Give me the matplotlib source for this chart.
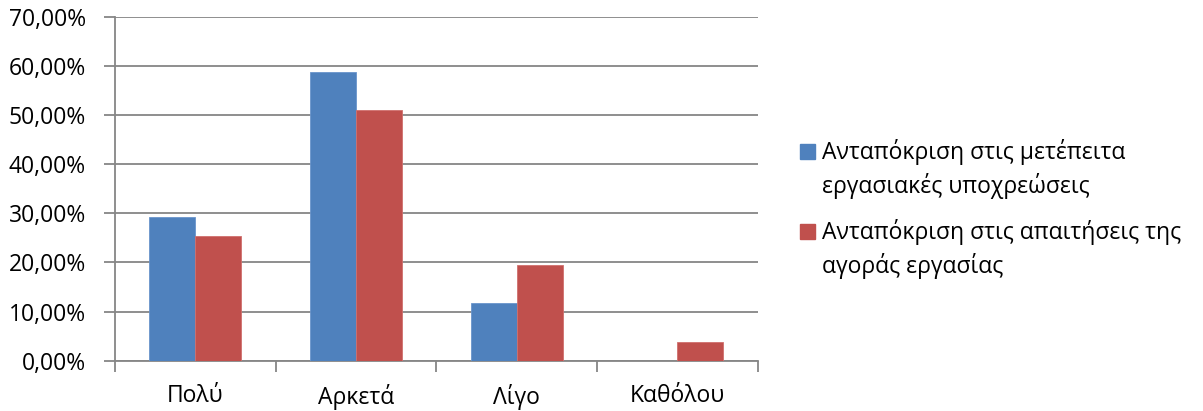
import matplotlib
matplotlib.use('Agg')
import matplotlib.pyplot as plt
import numpy as np
from matplotlib.patches import Rectangle
from matplotlib.ticker import FuncFormatter

# Δεδομένα
categories = ['Πολύ', 'Αρκετά', 'Λίγο', 'Καθόλου']
series_names = [['Ανταπόκριση στις μετέπειτα', 'εργασιακές υποχρεώσεις'],
                ['Ανταπόκριση στις απαιτήσεις της', 'αγοράς εργασίας']]
obligations = [29.3, 58.8, 11.7, 0.0]
market = [25.4, 51.0, 19.5, 3.8]
y_ticks = [0, 10, 20, 30, 40, 50, 60, 70]
colors = ['#4F81BD', '#C0504D']

plt.rcParams['font.family'] = ['Open Sans', 'DejaVu Sans']
fs = 16.5

W, H = 1203, 411
fig = plt.figure(figsize=(W / 100, H / 100), dpi=100)
ax = fig.add_axes([115 / W, (H - 360.7) / H, (757.8 - 115) / W, (360.7 - 16.7) / H])

x = np.arange(len(categories))
bw = 0.286
grid_c = '#868686'

ax.bar(x - bw / 2, obligations, bw, color=colors[0], edgecolor='#6A95CC', linewidth=0.6, zorder=3)
ax.bar(x + bw / 2, market, bw, color=colors[1], edgecolor='#D0706D', linewidth=0.6, zorder=3)

ax.set_xlim(-0.5, len(categories) - 0.5)
ax.set_ylim(0, 70)
ax.set_yticks(y_ticks)
ax.yaxis.set_major_formatter(FuncFormatter(lambda v, p: f'{v:.2f}%'.replace('.', ',')))
ax.grid(axis='y', color=grid_c, linewidth=1.3, zorder=0)

ax.set_xticks(x)
ax.set_xticklabels(categories)
ax.set_xticks(np.arange(-0.5, len(categories)), minor=True)
ax.tick_params(axis='x', which='major', length=0, pad=17, labelsize=fs)
ax.tick_params(axis='x', which='minor', length=8, color=grid_c, width=1.3)
ax.tick_params(axis='y', length=8, color=grid_c, width=1.3, pad=13, labelsize=fs)

for s in ['top', 'right']:
    ax.spines[s].set_visible(False)
for s in ['left', 'bottom']:
    ax.spines[s].set_color(grid_c)
    ax.spines[s].set_linewidth(1.3)

# Υπόμνημα (τετράγωνο στην πρώτη γραμμή κειμένου)
for (line1, line2), c, base in zip(series_names, colors, [159, 239]):
    fig.add_artist(Rectangle((800 / W, 1 - base / H), 15 / W, 15 / H,
                             transform=fig.transFigure, color=c))
    fig.text(822 / W, 1 - base / H, line1, fontsize=fs, va='baseline')
    fig.text(822 / W, 1 - (base + 34) / H, line2, fontsize=fs, va='baseline')

fig.savefig('out.png', dpi=100)
